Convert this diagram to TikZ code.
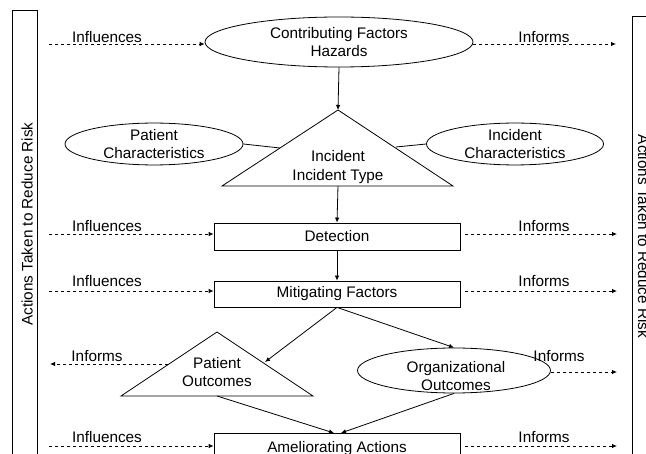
\documentclass[tikz,border=0pt]{standalone}
\usepackage{fontspec}
\setmainfont{Liberation Sans}
\usetikzlibrary{shapes.geometric,arrows.meta}
\tikzset{
  base/.style={line width=0.8pt, draw=black},
  ell/.style={base, ellipse, inner sep=0pt, align=center, font=\fs},
  boxn/.style={base, rectangle, inner sep=0pt, align=center, font=\fs},
  txt/.style={inner sep=0pt, align=center, font=\fs},
  lbl/.style={inner sep=0pt, font=\fs, anchor=base},
  arr/.style={line width=0.8pt, -{Latex[length=5pt,width=4.5pt]}},
  ln/.style={line width=0.8pt},
  darr/.style={line width=0.8pt, dash pattern=on 3pt off 3pt, -{Latex[length=5pt,width=4.5pt]}}
}
\newcommand{\fs}{\fontsize{15.3}{18.4}\selectfont}
\begin{document}
\begin{tikzpicture}[x=1pt,y=-1pt]
\useasboundingbox (0,0) rectangle (646,454);
\clip (0,0) rectangle (646,454);
% side bars
\draw[base] (12,10) rectangle (37,480);
\draw[base] (632,16) rectangle (670,480);
\node[lbl, rotate=90] (lt) at (32.5,224) {Actions Taken to Reduce Risk};
\node[lbl, rotate=-90] (rt) at (638,236.5) {Actions Taken to Reduce Risk};
% top ellipse
\node[ell, minimum width=268, minimum height=50] (cf) at (339,42) {Contributing Factors\\Hazards};
% incident triangle
\coordinate (tA) at (338,110);
\coordinate (tL) at (222,186);
\coordinate (tR) at (453,186);
\coordinate (tB) at (338,186);
\draw[base, line join=miter] (tA) -- (tL) -- (tR) -- cycle;
\node[txt] (inc) at (338,167) {Incident\\Incident Type};
% side ellipses
\node[ell, minimum width=178, minimum height=38] (pc) at (154,144) {Patient\\Characteristics};
\node[ell, minimum width=177, minimum height=38] (ic) at (515,144) {Incident\\Characteristics};
\coordinate (pcE) at (280,148);
\coordinate (icE) at (396,147);
\draw[ln] (pc.east) -- (pcE);
\draw[ln] (ic.west) -- (icE);
% boxes
\node[boxn, minimum width=246, minimum height=27] (det) at (337,236.5) {Detection};
\node[boxn, minimum width=246, minimum height=26] (mit) at (337,294) {Mitigating Factors};
\node[boxn, minimum width=246, minimum height=27] (am) at (337,446.5) {};
\node[txt] (amt) at (337,449) {Ameliorating Actions};
% patient outcomes triangle
\coordinate (pA) at (217,332);
\coordinate (pL) at (121,396);
\coordinate (pR) at (313,396);
\coordinate (pB) at (217,396);
\draw[base, line join=miter] (pA) -- (pL) -- (pR) -- cycle;
\node[txt] (pot) at (217,372) {Patient\\Outcomes};
\coordinate (pRs) at (265,362);
\coordinate (pLs) at (168,364);
% organizational outcomes
\node[ell, minimum width=193, minimum height=45] (org) at (454,370.5) {};
\node[txt] (orgt) at (456,376) {Organizational\\Outcomes};
% solid arrows
\draw[arr] (cf.south) -- (tA);
\draw[arr] (tB) -- (det.north);
\draw[arr] (det.south) -- (mit.north);
\draw[arr] (mit.south) -- (pRs);
\draw[arr] (mit.south) -- (org.north);
\coordinate (am1) at (334,433);
\coordinate (am2) at (341,433);
\draw[arr] (pB) -- (am1);
\draw[arr] (org.south) -- (am2);
% dashed rows
\coordinate (l1) at (49,44);   \coordinate (r1) at (616,44);
\coordinate (l2) at (49,234);  \coordinate (r2) at (617,234);
\coordinate (l3) at (49,291);  \coordinate (r3) at (617,291);
\coordinate (l4) at (50,364);  \coordinate (r4) at (617,372);
\coordinate (l5) at (49,446);  \coordinate (r5) at (617,446);
\draw[darr] (l1) -- (l1 -| cf.west);
\draw[darr] (cf.east |- r1) -- (r1);
\draw[darr] (l2) -- (l2 -| det.west);
\draw[darr] ([xshift=5pt]det.east |- r2) -- (r2);
\draw[darr] (l3) -- (l3 -| mit.west);
\draw[darr] ([xshift=5pt]mit.east |- r3) -- (r3);
\draw[darr] (pLs) -- (l4);
\draw[darr] (org.east |- r4) -- (r4);
\draw[darr] (l5) -- (l5 -| am.west);
\draw[darr] ([xshift=5pt]am.east |- r5) -- (r5);
% labels
\node[lbl] (i1) at (107,42.5) {Influences};
\node[lbl] (o1) at (544,42.5) {Informs};
\node[lbl] (i2) at (107,231.5) {Influences};
\node[lbl] (o2) at (544,231.5) {Informs};
\node[lbl] (i3) at (107,287) {Influences};
\node[lbl] (o3) at (544,287) {Informs};
\node[lbl] (o4) at (97,362) {Informs};
\node[lbl] (o5) at (559,361.5) {Informs};
\node[lbl] (i6) at (107,442.5) {Influences};
\node[lbl] (o6) at (544,442.5) {Informs};
\end{tikzpicture}
\end{document}
